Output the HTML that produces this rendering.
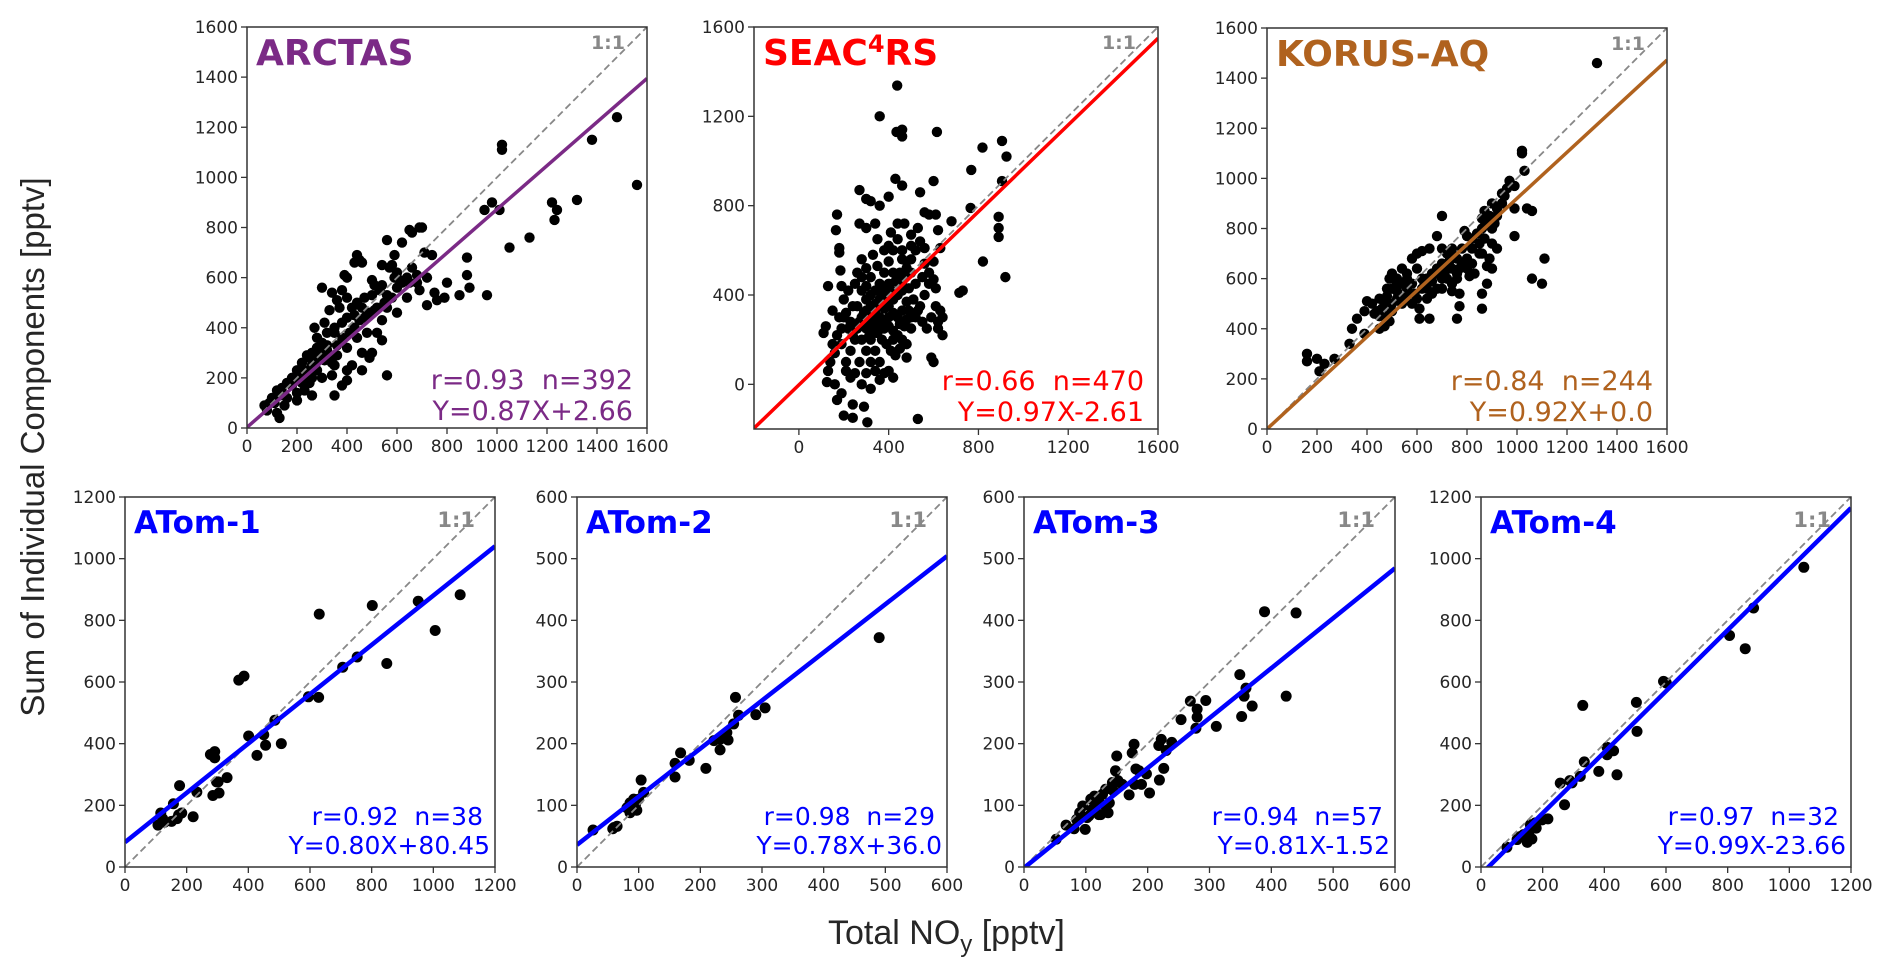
<!DOCTYPE html>
<html><head><meta charset="utf-8"><style>
html,body{margin:0;padding:0;background:#fff;}
svg{display:block;}
svg text{white-space:pre;}
</style></head><body>
<svg id="fig" width="1892" height="976" viewBox="0 0 1892 976" xmlns="http://www.w3.org/2000/svg">
<text x="0" y="0" transform="translate(44,447) rotate(-90)" text-anchor="middle" font-family="Liberation Sans, sans-serif" font-size="33" fill="#262626">Sum of Individual Components [pptv]</text>
<text x="828" y="944" font-family="Liberation Sans, sans-serif" font-size="34" fill="#262626">Total NO<tspan font-size="24" dy="8">y</tspan><tspan dy="-8"> [pptv]</tspan></text>
</svg>
<script>
// ---- data ----
const arctasX=[1020,1020,1480,1380,1560,1220,1240,1230,1130,1050,1320,1010,950,980,880,880,960,890,850,790,800,760,750,720,690,720,680,650,680,600,580,570,620,650,660,690,700,740,710,590,560,450,440,460,510,540,500,430,390,400,300,380,340,330,370,420,460,470,440,400,360,310,270,280,320,350,300,250,260,220,200,180,160,140,120,100,90,80,120,150,200,230,250,260,300,340,380,400,420,460,500,350,330,310,280,240,220,180,160,110,130,190,210,270,290,320,360,380,410,430,450,480,490,520,550,560,600,620,640,540,500,470,430,400,380,350,320,300,280,260,240,220,200,520,510,540,580,600,560,480,440,400,360,340,200,260,350,400,460,490,540,560,250,640,610,660,590,530,130,70];
const arctasY=[1130,1110,1240,1150,970,900,870,830,760,720,910,870,870,900,680,610,530,560,530,520,580,510,540,490,550,600,580,580,610,620,650,640,740,790,780,800,800,690,700,690,750,670,690,660,570,650,590,660,610,600,560,550,540,470,480,480,480,440,500,520,510,420,400,360,330,380,300,280,250,260,230,200,180,160,150,120,100,70,60,90,140,150,180,200,200,210,170,230,250,300,300,250,280,270,230,210,180,170,120,100,130,190,210,270,290,310,330,360,380,400,430,450,460,480,500,530,560,580,600,570,530,520,450,440,420,400,380,340,320,300,290,240,210,380,470,430,520,460,480,380,360,320,290,260,110,130,130,190,230,280,350,210,230,520,590,640,600,550,40,90];
const seacX=[438,360,435,460,460,615,818,905,925,768,905,600,430,460,540,270,300,320,360,400,170,165,180,180,185,130,190,150,110,120,530,305,290,240,190,170,200,240,320,125,160,480,590,600,640,715,730,820,920,890,890,890,765,680,620,560,580,610,630,610,270,340,300,530,470,440,500,560,600,580,200,220,250,260,280,300,320,340,360,380,400,420,300,270,230,210,190,170,150,140,130,160,180,200,220,250,280,300,320,340,360,380,400,420,440,460,480,500,520,540,560,580,520,500,480,460,440,420,400,380,360,340,320,300,280,330,350,370,390,410,430,450,470,490,510,530,550,570,590,610,620,630,520,540,500,460,420,400,380,360,340,320,300,280,260,240,260,280,300,320,340,360,280,250,230,210,270,290,310,330,350,370,390,410,430,450,470,490,400,420,440,460,480,380,360,340,320,300,420,440,460,400,380,350,330,310,290,420,450,480,500,440,460,480,500,400,410,380,350,550,560,600,620,640,230,210,190,240];
const seacY=[1338,1200,1130,1140,1110,1130,1060,1090,1020,960,910,910,920,890,860,870,830,820,800,840,760,690,610,590,510,440,440,330,230,260,-155,-170,-100,-90,-40,-70,-140,-150,-20,10,0,120,120,100,220,410,420,550,480,660,700,750,790,730,690,770,760,760,610,430,720,720,700,700,720,720,670,610,470,500,300,250,200,350,300,250,200,150,100,50,60,30,50,100,150,100,180,220,180,100,60,140,300,380,420,450,420,380,350,320,300,280,260,240,220,200,180,250,300,350,400,450,450,500,550,600,650,600,550,500,450,420,480,520,560,580,530,400,380,420,460,500,480,430,380,330,280,250,300,350,280,330,600,640,620,560,500,450,420,380,360,400,440,480,500,350,250,200,150,100,60,20,0,50,30,60,280,320,300,260,230,200,180,150,130,160,260,330,350,380,400,420,370,340,360,300,280,330,320,300,330,300,250,270,230,210,260,200,270,290,300,480,460,520,560,620,680,600,650,480,540,550,250,300,280,320,250,220];
const korusX=[1320,1020,1020,1030,970,990,1040,1060,990,990,1060,1100,1110,920,870,890,950,940,700,680,790,800,850,860,900,920,890,880,900,830,810,880,860,860,760,770,770,740,650,610,610,600,560,520,480,450,470,490,440,400,390,360,340,330,390,270,230,200,160,160,210,420,450,480,500,520,500,540,560,580,600,620,650,600,640,660,680,700,720,740,760,780,760,720,680,660,640,620,580,560,540,520,500,470,460,480,540,580,620,680,700,720,740,800,820,840,860,880,900,920,940,960,820,780,740,700,820,800,760,740,700,640,560,520,490,450,430,500,550,590,630,660,710,730,770,850,870,900,910,860];
const korusY=[1460,1100,1110,1030,990,970,880,870,880,770,600,580,680,850,870,850,930,900,850,770,790,770,740,700,740,720,680,650,640,620,610,580,540,480,440,490,540,550,440,440,480,520,530,550,450,400,410,430,470,510,470,440,400,340,380,280,260,280,300,270,230,500,520,530,560,600,620,640,620,680,700,710,720,640,600,620,640,660,700,720,680,660,620,600,560,540,520,560,580,560,580,520,500,500,480,560,500,500,600,620,600,650,640,680,720,780,800,820,800,880,940,960,760,720,700,720,660,640,600,580,560,560,600,580,600,450,460,470,520,540,580,590,620,670,640,700,760,900,820,840];
const atom1X=[1087,1006,951,849,802,753,706,630,628,595,486,507,456,450,428,401,386,369,331,305,297,291,277,291,285,233,221,177,184,157,169,151,116,107,122,128,174,302];
const atom1Y=[883,767,862,660,848,681,648,820,550,552,476,400,395,429,362,425,619,606,290,240,276,374,365,354,232,243,163,264,175,205,157,148,175,136,157,145,169,276];
const atom2X=[490,305,290,257,262,254,245,232,222,232,209,182,168,159,159,104,108,97,86,86,95,65,58,26,100,81,92,243,60];
const atom2Y=[372,258,247,275,246,232,206,190,205,207,160,173,185,168,146,141,121,92,104,88,102,66,62,60,110,96,110,218,64];
const atom3X=[389,440,349,424,359,356,369,352,294,269,280,278,311,254,222,218,230,226,219,198,203,178,175,181,179,190,170,150,148,148,152,136,132,132,124,116,110,105,95,102,99,81,85,52,121,127,143,138,114,68,90,108,121,145,159,186,239,280];
const atom3Y=[414,412,312,277,290,277,261,244,270,269,243,225,228,239,207,197,189,160,141,151,120,199,185,159,134,134,117,180,156,138,140,88,99,126,85,104,93,83,99,80,61,62,77,45,107,118,137,104,115,68,88,110,85,123,134,156,202,256];
const atom4X=[1047,884,806,857,592,601,504,506,330,430,409,409,441,382,335,322,288,257,271,217,198,179,165,150,160,138,128,84,155,117,176,295];
const atom4Y=[972,840,751,708,602,597,534,440,524,377,364,388,299,310,341,294,280,272,202,156,153,126,91,80,137,105,99,64,110,89,143,273];
const fitSlope=[0.87,0.97,0.92,0.80,0.78,0.81,0.99];
const fitIntercept=[2.66,-2.61,0.0,80.45,36.0,-1.52,-23.66];
const ticks1600=[0,200,400,600,800,1000,1200,1400,1600];
const ticksSeac=[0,400,800,1200,1600];
const ticks1200=[0,200,400,600,800,1000,1200];
const ticks600=[0,100,200,300,400,500,600];
const panelNames=['ARCTAS','SEAC4RS','KORUS-AQ','ATom-1','ATom-2','ATom-3','ATom-4'];
const statLine1=['r=0.93  n=392','r=0.66  n=470','r=0.84  n=244','r=0.92  n=38','r=0.98  n=29','r=0.94  n=57','r=0.97  n=32'];
const statLine2=['Y=0.87X+2.66','Y=0.97X-2.61','Y=0.92X+0.0','Y=0.80X+80.45','Y=0.78X+36.0','Y=0.81X-1.52','Y=0.99X-23.66'];

// ---- layout ----
const layout=[
 {x:247,y:27,w:400,h:401,min:0,max:1600,ticks:ticks1600,color:'#7b2a86',px:arctasX,py:arctasY,tsize:36,ssize:27,top:true},
 {x:754,y:27,w:404,h:402,min:-200,max:1600,ticks:ticksSeac,color:'#ff0000',px:seacX,py:seacY,tsize:36,ssize:27,top:true},
 {x:1267,y:28,w:400,h:401,min:0,max:1600,ticks:ticks1600,color:'#b0621e',px:korusX,py:korusY,tsize:36,ssize:27,top:true},
 {x:125,y:497,w:370,h:370,min:0,max:1200,ticks:ticks1200,color:'#0000ff',px:atom1X,py:atom1Y,tsize:31,ssize:25},
 {x:577,y:497,w:370,h:370,min:0,max:600,ticks:ticks600,color:'#0000ff',px:atom2X,py:atom2Y,tsize:31,ssize:25},
 {x:1024,y:497,w:371,h:370,min:0,max:600,ticks:ticks600,color:'#0000ff',px:atom3X,py:atom3Y,tsize:31,ssize:25},
 {x:1481,y:497,w:370,h:370,min:0,max:1200,ticks:ticks1200,color:'#0000ff',px:atom4X,py:atom4Y,tsize:31,ssize:25}
];
const NS='http://www.w3.org/2000/svg';
const svg=document.getElementById('fig');
function mk(tag,attrs,parent){const e=document.createElementNS(NS,tag);for(const k in attrs)e.setAttribute(k,attrs[k]);(parent||svg).appendChild(e);return e;}
const FONT='DejaVu Sans, Liberation Sans, sans-serif';
layout.forEach((p,i)=>{
  const sx=v=>p.x+(v-p.min)/(p.max-p.min)*p.w;
  const sy=v=>p.y+p.h-(v-p.min)/(p.max-p.min)*p.h;
  const g=mk('g',{});
  
  
  const cp=mk('clipPath',{id:'cp'+i},g);
  mk('rect',{x:p.x,y:p.y,width:p.w,height:p.h},cp);
  const pts=mk('g',{'clip-path':'url(#cp'+i+')'},g);
  
  
  const r=p.top?5.2:5.5;
  for(let k=0;k<p.px.length;k++){
    const c=mk('circle',{cx:sx(p.px[k]),cy:sy(p.py[k]),r:r,fill:'#000'},pts);
    
    
  }
  const l11=mk('line',{x1:sx(p.min),y1:sy(p.min),x2:sx(p.max),y2:sy(p.max),stroke:'#888',"stroke-width":1.8,"stroke-dasharray":'7,4','clip-path':'url(#cp'+i+')'},g);
  
  
  const fl=mk('line',{x1:sx(p.min),y1:sy(p.min*fitSlope[i]+fitIntercept[i]),x2:sx(p.max),y2:sy(p.max*fitSlope[i]+fitIntercept[i]),stroke:p.color,"stroke-width":p.top?3.5:4.5,'clip-path':'url(#cp'+i+')'},g);
  
  
  const fr=mk('rect',{x:p.x,y:p.y,width:p.w,height:p.h,fill:'none',stroke:'#333','stroke-width':1.5},g);
  
  
  p.ticks.forEach(t=>{
    const X=sx(t),Y=sy(t);
    mk('line',{x1:X,y1:p.y+p.h,x2:X,y2:p.y+p.h+6,stroke:'#333','stroke-width':1.3},g);
    const tx=mk('text',{x:X,y:p.y+p.h+24,'text-anchor':'middle','font-family':FONT,'font-size':17,fill:'#262626'},g);
    tx.textContent=t;
    
    
    mk('line',{x1:p.x-6,y1:Y,x2:p.x,y2:Y,stroke:'#333','stroke-width':1.3},g);
    const ty=mk('text',{x:p.x-9,y:Y+6,'text-anchor':'end','font-family':FONT,'font-size':17,fill:'#262626'},g);
    ty.textContent=t;
    
    
  });
  const tt=mk('text',{x:p.x+9,y:p.y+(p.top?38:36),'font-family':FONT,'font-weight':'bold','font-size':p.tsize,fill:p.color},g);
  if(panelNames[i]==='SEAC4RS'){
    tt.innerHTML='SEAC<tspan font-size="24" dy="-13">4</tspan><tspan dy="13">RS</tspan>';
  } else tt.textContent=panelNames[i];
  
  
  const one=mk('text',{x:p.x+p.w-(p.top?22:20),y:p.y+(p.top?22:30),'text-anchor':'end','font-family':FONT,'font-weight':'bold','font-size':p.top?19:21,fill:'#888'},g);
  one.textContent='1:1';
  
  
  const s1=mk('text',{x:p.x+p.w-(p.top?14:12),y:p.y+p.h-(p.top?39:42),'text-anchor':'end','font-family':FONT,'font-size':p.ssize,fill:p.color},g);
  s1.textContent=statLine1[i];
  
  
  const s2=mk('text',{x:p.x+p.w-(p.top?14:5),y:p.y+p.h-(p.top?8:13),'text-anchor':'end','font-family':FONT,'font-size':p.ssize,fill:p.color},g);
  s2.textContent=statLine2[i];
  
  
});
</script>
</body></html>
